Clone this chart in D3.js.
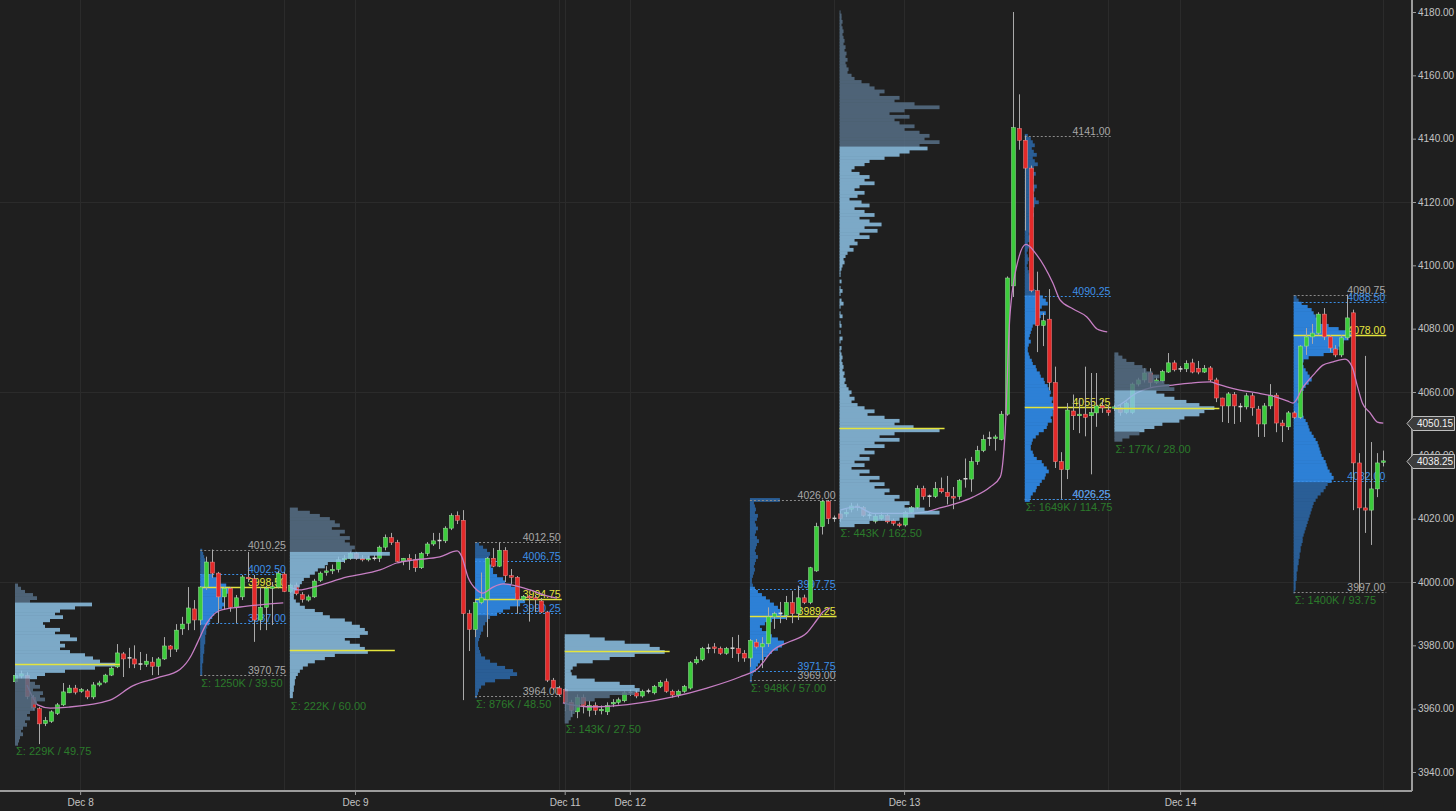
<!DOCTYPE html>
<html><head><meta charset="utf-8">
<script src="https://cdn.jsdelivr.net/npm/d3@7"></script>
<style>
html,body{margin:0;padding:0;background:#202020;overflow:hidden}
svg{display:block}
text{font-family:"Liberation Sans",Arial,sans-serif}
</style></head><body>
<svg id="c" width="1456" height="811"></svg>
<script>
// ---------------- DATA ----------------
const candleOpen = [3968.5,3970.3,3970.5,3963.5,3960,3955.3,3956,3958.5,3961.2,3965,3966.5,3965.5,3965.6,3963.7,3967.5,3968.4,3970.6,3973.2,3977.3,3976.2,3975.7,3974,3974,3974.7,3973.4,3975.7,3979.8,3978.8,3985.2,3987,3991.5,3988,3998.4,4006.3,4002.8,3995.3,3998,3992,3995.3,4001.5,4001,3988,3992,3998,3998.4,4002.5,
3997,3999,3996,3994.3,3995.3,4000.5,4003,4003.5,4004,4007,4007.5,4009,4007.5,4007,4007.5,4007.5,4011,4014,4012.5,4006.5,4007.5,4007,4004.5,4009,4012,4013,4013,4017,4021,4019.5,3990,3985,3993.5,3994.5,4007.5,4005,4010,4002,4001.5,3994.5,3995.5,3995,3994,3990.5,3969,3966.5,
3966,3962,3959,3963.5,3959.5,3961,3959.5,3959,3961.5,3962,3962.5,3965,3965,3964,3965.5,3965,3967,3968.5,3965.5,3964.3,3965.5,3966.5,3974.5,3975.5,3979,3979.5,3979,3977.5,3979,3979,3977.5,3976,3981,3979.5,3980.5,3989,3990,3989.5,3993.5,3990,3995,3993.5,4003.5,4017.5,4025.5,4020,
4021.5,4021.5,4023,4024,4023.5,4021,4019.2,4020,4021,4019.5,4018.3,4018,4022,4023.5,4029.5,4027,4027,4029.5,4028.3,4027,4027,4032.5,4032.5,4038,4041.5,4045.3,4045.5,4045,4053,4093.5,4143.2,4139.5,4130.7,4092,4081,4083,4063,4038,4035.5,4054,4052.5,4053,4052.5,4053.4,4055.6,4054.3,
4055,4055,4053.5,4053.5,4062.5,4063.8,4066,4063,4063.5,4066.3,4069.2,4067.2,4067.3,4069.2,4067.5,4066.3,4067.6,4063.8,4058.1,4055.6,4059.2,4055.3,4055.3,4058.8,4054.6,4049.9,4055.6,4059,4050.2,4049,4053.4,4052,4074.5,4077.4,4078.6,4084.6,4077.4,4073.6,4071.7,4077.1,4085,4037.6,4023.4,4022.7,4029.4,4037.8];
const candleHigh = [3971.3,3972,3971.5,3964.3,3960.5,3957.4,3959.5,3961.8,3968.1,3967.5,3967.5,3966.5,3966.2,3968.4,3968.8,3971,3973.3,3980.4,3977.9,3979.2,3980,3977.9,3977.3,3976.3,3976.3,3982.6,3980.1,3986.7,3989,3998.4,3994.3,3998.7,4008,4010.25,4003.2,3998.4,3998.4,3995.9,4002.2,4009.5,4002.2,3998.4,3998.7,4000,4003.5,4003.2,
3999.5,3999.8,3996.8,3996,4001,4003.3,4005,4005.5,4008,4008.5,4009.8,4009.5,4008.5,4008.3,4008.5,4011.5,4015,4015.5,4013.3,4007.6,4008.8,4008.8,4009.5,4012.6,4015.5,4015.5,4017.6,4021.7,4022.3,4022.7,3991.2,3994.3,4003,4007.9,4010.7,4012.5,4011,4004.1,4001.9,3995.9,3996,3995.9,3995,3990.8,3969.7,3967.2,
3966.5,3962.8,3964.5,3964.5,3962.5,3962,3961,3962,3963,3963.5,3965.5,3966,3965.8,3966,3966.3,3967.5,3969,3969.5,3966,3966,3967.5,3975,3976.5,3979.5,3980.5,3980.7,3979.6,3979.5,3982.6,3983.3,3978.5,3982,3982,3982.6,3992,3990.6,3993.7,3995.6,3997.2,3998.7,3996,4004.8,4018.7,4026,4025.9,4021,
4022.5,4023,4025,4024.8,4024,4022,4021.5,4022,4021.5,4020,4018.8,4022.5,4024,4030.5,4030.4,4027.6,4031.6,4033,4033.5,4030,4032.5,4039,4039.5,4043,4046.5,4047.5,4046.5,4054,4096.5,4180,4154,4141,4131.5,4098,4085,4092.5,4068,4041,4056.5,4059.2,4058.1,4068,4066,4066,4057.5,4055.8,
4056,4056,4057,4063,4064.5,4067.5,4067.5,4065,4067,4072.3,4070,4068.2,4070,4070.5,4069.8,4068.5,4068.2,4064.5,4058.2,4060,4060,4056.5,4059.7,4059.7,4055.6,4056.5,4062.5,4059.7,4051.2,4054,4054,4074.8,4080.2,4081.5,4085.2,4086.5,4078,4074.8,4078,4090.75,4086,4040.7,4071.4,4044.2,4040.7,4041.5];
const candleLow = [3968.1,3969.5,3963,3959.5,3948.8,3954.5,3955.5,3958,3960.8,3964.9,3964.5,3965,3963,3963,3967,3968,3970.3,3972.8,3970,3972.8,3972.8,3972.2,3973.2,3970.6,3970.6,3975.4,3976.3,3977.9,3983.3,3984.8,3984.8,3986.4,3997.5,4001.3,3987,3991.2,3990.6,3987,3994.3,4000,3981.1,3984.8,3984.8,3986.4,3998,3996.8,
3996.5,3995.8,3993.5,3993.8,3995,4000,4002,4002.5,4003,4006,4007,4007,4006.5,4006.5,4006.8,4006.3,4010,4011.7,4006.3,4005.3,4003.8,4003.2,4004.1,4008.2,4011.4,4010.4,4012.3,4016.4,4018.3,3962.7,3978.2,3982.6,3993,3982.6,4004.7,4004.7,4000,3999.4,3990,3994,3987.5,3990.5,3990.2,3968.4,3965.9,3964,
3959.2,3957.5,3957,3958.5,3957.5,3958,3958.2,3958,3960.5,3961.3,3962,3964,3963.3,3963.5,3964.8,3964.5,3966.5,3965,3963.5,3963.5,3965,3966,3974,3975,3977.5,3977.5,3977,3977,3976,3974.8,3974.8,3973.2,3979,3972.8,3979.5,3985.2,3987,3988,3987,3988,3993,3993,4003.2,4015,4018.3,4019,
4019,4020.5,4022,4022.5,4020.5,4020,4018.5,4019.5,4018.5,4017.8,4017.3,4017.5,4021.5,4023,4026,4023.7,4026.5,4028,4024.5,4023,4026,4029.8,4028.5,4037,4041,4043,4041.5,4044.7,4052.5,4090,4136.5,4111,4091.5,4072.6,4074.5,4060.5,4036,4026.25,4032.5,4048,4047,4046,4034,4049,4053.4,4052.5,
4054,4052.5,4053,4053,4061.8,4063,4061.5,4062.5,4063,4066,4066.5,4066.3,4066.3,4065.9,4065.6,4066,4063.2,4056.8,4050.5,4050.2,4049.9,4050.5,4054.5,4052.5,4045.8,4045.8,4054.6,4047.3,4044.2,4048,4051.5,4051.5,4071.7,4075.2,4077.9,4076.4,4072.6,4071,4071,4076.5,4022.7,3997,4015.5,4011.7,4026.8,4036.5];
const candleClose = [3970.5,3971,3963.8,3960.2,3955.2,3956.3,3959,3961.2,3965.3,3966.5,3965.2,3966,3963.7,3967.5,3968.1,3970.6,3972.8,3977.6,3975.7,3975.9,3974.1,3974.2,3975,3973.4,3975.7,3979.8,3978.8,3984.8,3986.7,3991.8,3988,3998.4,4006.3,4002.8,3995.3,3998,3992,3995,4001.6,4001.2,3988,3992,3998,3998.5,4002.8,3997,
3999,3996.3,3994.5,3995.3,4000.3,4002.8,4003.5,4004,4007,4007.5,4009,4007.5,4007,4007.5,4007.5,4011,4014,4012.5,4006.5,4007.5,4007,4004.5,4009,4012,4013,4013.2,4017,4021,4019.5,3990,3985,3993.5,3995,4007.5,4005,4010,4002,4001.5,3994.5,3995.5,3995,3994.5,3990.5,3969,3966.5,3964.5,
3962,3959.5,3963.5,3961,3961,3959.5,3959.8,3961,3962,3962.8,3965,3965.2,3964,3965.5,3965.6,3967,3968.3,3965.5,3964.3,3965.5,3967,3974.5,3975.5,3979,3979.2,3979,3977.5,3979,3979.2,3977.5,3976,3981.5,3979.5,3980.5,3989,3990,3990.2,3993.5,3990,3995,3993.5,4004.5,4017.5,4025.5,4020,4020.2,
4020,4022,4024,4023.5,4021,4021.2,4020.8,4021,4019,4018.5,4018,4022,4023.5,4029.5,4027,4027.2,4029.5,4028.5,4027,4026.5,4032,4032.7,4038,4041.5,4045,4045.6,4045.8,4053,4096,4143.5,4139.5,4130.7,4092,4081,4082.5,4063,4038,4035.5,4054.3,4052.5,4053,4052,4053.5,4055.6,4055,4053.5,
4055.3,4053.5,4056.5,4062.5,4063.8,4066,4063,4063.8,4066.5,4069.2,4067,4067.4,4069,4066.3,4066.3,4067.5,4063.8,4058.1,4055.6,4059.4,4055.6,4055.5,4058.8,4055,4049.9,4055.6,4059,4050.2,4049.3,4053.4,4052,4074.5,4077.4,4078.6,4084.6,4077.4,4073.9,4071.7,4077.1,4083.4,4037.6,4023.4,4022.7,4029.4,4037.6,4038.25];

// VWAP segments: [bar index, price]
const vwapSegments = [
 [[2,3967.5],[3,3963.5],[3.8,3961.2],[5.9,3960.2],[9,3960.5],[15.9,3962.7],[19.7,3967.2],[23.8,3969.7],[27.6,3972.4],[29.5,3976.8],[30.5,3980.7],[32.1,3987],[34.3,3991],[37.7,3992.1],[41,3992.8],[44.9,3993.4]],
 [[46,3998.4],[47.7,3997.5],[49.9,3998.4],[55.6,4001.6],[61.1,4003.8],[63.9,4006],[66.6,4006.9],[71.1,4007.9],[74,4009.8],[74.8,4007.9],[75.8,4001.6],[77.3,3997.5],[78.3,3996.5],[80,3998.4],[81.7,3999.4],[83.3,3999],[86.2,3997.5],[89,3995.6],[90.7,3994.9]],
 [[91.7,3961.8],[95.7,3960.6],[97.9,3960.6],[104.6,3961.8],[110.1,3963.7],[115.8,3966.5],[121.3,3970],[124.2,3972.5],[126.9,3978.5],[129.7,3981.2],[132.5,3983.9],[134.2,3988],[135.2,3990.5],[136.4,3991.8]],
 [[138.1,4022.7],[140.9,4023.7],[143.6,4021.7],[149.3,4021.7],[152,4022],[154.8,4023.4],[157.7,4024.9],[160.3,4026.8],[163.2,4030],[164.9,4033.2],[165.7,4047],[166.5,4083.7],[167.9,4101.7],[169.2,4106.6],[171,4103.3],[173.7,4094.4],[174.9,4089.1],[177.1,4086.2],[179.4,4083.7],[181.1,4079.9],[182.8,4079]],
 [[184.5,4055.5],[186.1,4057.5],[187.1,4059],[190,4061.3],[193.8,4062.2],[196.7,4062.8],[200,4063.2],[201.2,4062.5],[202.8,4061.6],[205,4060.6],[207.9,4059.7],[210.5,4058.7],[212.9,4057.2],[213.9,4056.5],[215.6,4061.6],[217.3,4065.4],[218.9,4068.5],[220.6,4069.5],[222.6,4070.4],[223.8,4067.9],[224.7,4061.6],[225.5,4056.5],[226.8,4053.4],[228,4050.5],[229,4050.15]]
];

// Volume profiles
const profileStart = [0, 31, 46, 77, 92, 123, 138, 169, 184, 214];
const profileEnd   = [null, 45, null, 91, null, 137, null, 183, null, 229];
const profileKind  = ['eth','rth','eth','rth','eth','rth','eth','rth','eth','rth'];
const profileHigh  = [3999, 4010.25, 4023.5, 4012.5, 3983.5, 4026, 4180.5, 4141, 4072.5, 4090.75];
const profileLow   = [3949.25, 3970.75, 3963.5, 3964, 3956, 3969, 4018, 4026.25, 4044.5, 3997];
const profileVAH   = [3993, 4002.5, 4009, 4006.75, 3983, 3997.75, 4137, 4090.25, 4060, 4088.5];
const profileVAL   = [3970, 3987, 3964, 3990.25, 3966, 3971.75, 4018, 4026.25, 4048, 4032];
const profilePOC   = [3974, 3998.5, 3978.5, 3994.75, 3978.25, 3989.25, 4048.5, 4055.25, 4055, 4078];
const profileTopBin = [3999, 4010, 4023, 4012, 3983, 4026, 4180, 4141, 4072, 4090];
const profileSigma = ['229K / 49.75','1250K / 39.50','222K / 60.00','876K / 48.50','143K / 27.50','948K / 57.00','443K / 162.50','1649K / 114.75','177K / 28.00','1400K / 93.75'];
const profileVolume = [
 [3,6,10,18,22,15,77,60,45,40,48,35,28,30,45,40,55,62,45,50,45,55,70,78,85,100,80,50,30,22,15,20,25,18,28,25,30,22,18,20,15,12,15,10,12,8,6,8,5,4,3],
 [2,3,4,5,6,7,8,8,13,17,20,26,30,28,24,22,22,24,22,18,14,12,10,9,7,6,6,5,5,5,4,4,4,3,3,3,2,2,2,2],
 [8,20,30,40,45,50,42,55,50,60,55,60,65,62,100,80,55,38,35,28,25,20,14,12,10,7,5,4,4,6,10,15,25,33,40,55,62,70,75,78,70,55,60,70,75,78,45,35,25,18,13,10,8,6,5,5,4,4,3,3],
 [4,8,12,15,14,12,14,16,18,18,22,28,30,36,40,40,42,45,50,45,35,28,22,15,12,10,8,8,6,5,4,3,3,4,5,6,10,15,22,30,38,42,35,20,10,6,4,3,2],
 [25,40,60,85,95,100,70,45,28,12,8,6,7,12,30,55,70,75,70,45,30,20,15,12,10,8,6,4],
 [30,4,5,6,5,8,7,5,6,8,6,5,7,9,7,6,5,6,8,6,5,4,5,4,3,2,2,3,5,8,12,16,20,24,28,30,32,36,22,15,10,12,18,22,28,34,32,28,22,18,14,10,8,6,4,3,2,2],
 [1,2,2,3,2,3,4,3,4,5,4,6,5,7,6,8,6,7,9,8,12,
  15,22,30,35,45,40,60,55,75,100,65,50,70,55,60,75,65,80,90,85,100,80,
  88,70,60,45,30,25,15,12,20,30,25,35,20,15,25,18,10,22,30,15,25,35,20,30,42,25,38,20,30,15,18,10,14,8,6,4,5,3,2,1,
  1,0,2,0,1,3,1,0,2,4,1,0,1,3,0,1,2,0,1,0,3,1,0,
  2,1,2,3,2,3,4,3,5,4,6,5,7,9,12,10,15,12,18,25,35,28,45,60,55,74,
  100,55,40,60,35,45,25,35,20,30,15,25,12,30,20,40,30,45,35,50,45,60,55,70,65,85,100,75,60,30,15],
 [3,6,8,10,7,9,12,8,10,13,9,7,11,9,6,8,12,10,7,9,11,14,10,8,6,9,7,5,6,8,5,4,6,5,3,4,3,2,3,4,3,2,3,4,5,6,5,7,8,10,12,
  18,21,23,17,15,21,16,12,11,8,7,6,5,4,6,4,3,3,4,5,7,8,11,12,15,16,19,20,23,24,26,25,28,27,29,31,28,28,26,27,23,22,19,14,11,8,7,6,6,8,9,12,17,19,22,24,21,20,17,15,12,11,8,6,5],
 [4,8,12,20,28,32,38,45,40,50,55,60,42,50,60,72,85,100,90,85,70,65,48,40,30,25,15,8],
 [3,5,8,14,18,20,22,24,26,35,45,57,60,55,50,48,45,40,30,15,10,9,10,12,14,16,18,15,12,10,8,6,5,4,5,6,8,9,10,12,14,15,16,18,20,22,24,25,26,27,28,30,32,33,34,36,38,40,38,34,32,30,27,24,22,20,19,18,17,16,15,14,13,12,11,10,9,9,8,7,7,6,6,5,5,4,4,3,3,3,2,2,2,1]
];

const priceTicks = d3.range(3940, 4181, 20);
const dateTickIdx = [10.9, 56.9, 92, 102.9, 148.8, 195];
const dateTickLabels = ['Dec 8','Dec 9','Dec 11','Dec 12','Dec 13','Dec 14'];
const sessionGridIdx = [45, 91, 137, 183, 229];
const hGridPrices = [4000, 4060, 4120];
const tagValues = [4050.15, 4038.25];

// ---------------- CHART ----------------
const W = 1456, H = 811, axisX = 1412, axisY = 791;
const svg = d3.select('#c');
const x = d3.scaleLinear().domain([0, 229]).range([15, 15 + 229 * 5.975]);
const y = d3.scaleLinear().domain([3940, 4180]).range([772, 12]);
const volScale = d3.scaleLinear().domain([0, 100]).range([0, 100]);
const binH = y(4000) - y(4001);
const fmt = d3.format('.2f');

svg.append('rect').attr('width', W).attr('height', H).attr('fill', '#1f1f1f');

// grid
const grid = svg.append('g').attr('stroke', '#2b2b2b').attr('stroke-width', 1);
grid.selectAll('line.v').data(dateTickIdx.concat(sessionGridIdx)).join('line')
  .attr('x1', d => Math.round(x(d)) + 0.5).attr('x2', d => Math.round(x(d)) + 0.5)
  .attr('y1', 0).attr('y2', axisY);
grid.selectAll('line.h').data(hGridPrices).join('line')
  .attr('x1', 0).attr('x2', axisX)
  .attr('y1', d => Math.round(y(d)) + 0.5).attr('y2', d => Math.round(y(d)) + 0.5);

// build profile bin rows
function rows(k) {
  return profileVolume[k].map((v, j) => {
    const p = profileTopBin[k] - j;
    const inVA = p <= profileVAH[k] + 0.25 && p >= profileVAL[k] - 0.25;
    return {k, p, v, inVA};
  });
}

const rthIdx = d3.range(10).filter(k => profileKind[k] === 'rth');
const ethIdx = d3.range(10).filter(k => profileKind[k] === 'eth');

// RTH profiles (under candles)
const rthG = svg.append('g');
rthIdx.forEach(k => {
  const x0 = x(profileStart[k]);
  rthG.append('g').selectAll('rect').data(rows(k)).join('rect')
    .attr('x', x0).attr('y', d => y(d.p + 0.5))
    .attr('width', d => volScale(d.v)).attr('height', binH + 0.6)
    .attr('fill', d => d.inVA ? '#2d80d6' : '#2a5e96');
});

// RTH level lines and labels
const lvlG = svg.append('g');
rthIdx.forEach(k => {
  const xs = x(profileStart[k]), xe = x(profileEnd[k]) + 3;
  const levels = [
    {p: profileHigh[k], c: '#8a8a8a', t: '#a8a8a8', dash: '2,2'},
    {p: profileLow[k], c: '#8a8a8a', t: '#a8a8a8', dash: '2,2'},
    {p: profileVAH[k], c: '#3a8de4', t: '#3d90e8', dash: '2,2'},
    {p: profileVAL[k], c: '#3a8de4', t: '#3d90e8', dash: '2,2'},
    {p: profilePOC[k], c: '#e4e43c', t: '#e6e640', dash: null}
  ];
  levels.forEach(L => {
    const yy = Math.round(y(L.p)) + 0.5;
    lvlG.append('line').attr('x1', xs).attr('x2', xe).attr('y1', yy).attr('y2', yy)
      .attr('stroke', L.c).attr('stroke-width', L.dash ? 1 : 1.6)
      .attr('stroke-dasharray', L.dash);
    lvlG.append('text').attr('x', xe - 1).attr('y', yy - 2).attr('text-anchor', 'end')
      .attr('font-size', 10.5).attr('fill', L.t).text(fmt(L.p));
  });
});

// candles
const candles = candleOpen.map((o, i) => ({i, o, h: candleHigh[i], l: candleLow[i], c: candleClose[i]}));
const isDoji = d => Math.abs(d.c - d.o) < 0.3;
const cG = svg.append('g');
cG.selectAll('line').data(candles).join('line')
  .attr('x1', d => Math.round(x(d.i)) + 0.5).attr('x2', d => Math.round(x(d.i)) + 0.5)
  .attr('y1', d => y(d.h)).attr('y2', d => y(d.l))
  .attr('stroke', '#a9a9a9').attr('stroke-width', 1);
cG.selectAll('rect').data(candles).join('rect')
  .attr('x', d => Math.round(x(d.i)) - 1.5)
  .attr('width', 4)
  .attr('y', d => isDoji(d) ? y((d.o + d.c) / 2) - 0.75 : y(Math.max(d.o, d.c)))
  .attr('height', d => isDoji(d) ? 1.5 : Math.max(1.5, Math.abs(y(d.o) - y(d.c))))
  .attr('fill', d => isDoji(d) ? '#d8d8d8' : (d.c > d.o ? '#3ccc3c' : '#e42a2a'))
  .attr('stroke', d => isDoji(d) ? 'none' : (d.c > d.o ? '#9fe39f' : '#f08a8a'))
  .attr('stroke-width', 0.5);

// VWAP
const vwapLine = d3.line().x(d => x(d[0])).y(d => y(d[1])).curve(d3.curveMonotoneX);
svg.append('g').selectAll('path').data(vwapSegments).join('path')
  .attr('d', vwapLine).attr('fill', 'none').attr('stroke', '#c77fc4').attr('stroke-width', 1.3);

// ETH profiles (over candles, translucent)
const ethG = svg.append('g').attr('opacity', 0.84);
ethIdx.forEach(k => {
  const x0 = x(profileStart[k]);
  ethG.append('g').selectAll('rect').data(rows(k)).join('rect')
    .attr('x', x0).attr('y', d => y(d.p + 0.5))
    .attr('width', d => volScale(d.v)).attr('height', binH + 0.6)
    .attr('fill', d => d.inVA ? '#8ec4e8' : '#587188');
});
// ETH POC lines
svg.append('g').selectAll('line').data(ethIdx).join('line')
  .attr('x1', k => x(profileStart[k]))
  .attr('x2', k => x(profileStart[k]) + volScale(d3.max(profileVolume[k])) + 5)
  .attr('y1', k => Math.round(y(profilePOC[k])) + 0.5)
  .attr('y2', k => Math.round(y(profilePOC[k])) + 0.5)
  .attr('stroke', '#e4e43c').attr('stroke-width', 1.6);

// sigma labels
svg.append('g').selectAll('text').data(d3.range(10)).join('text')
  .attr('x', k => x(profileStart[k]) + 1)
  .attr('y', k => y(profileLow[k]) + 12)
  .attr('font-size', 11).attr('fill', '#2b7a2b')
  .text(k => 'Σ: ' + profileSigma[k]);

// axes
const axG = svg.append('g');
axG.append('line').attr('x1', 0).attr('x2', axisX).attr('y1', axisY).attr('y2', axisY)
  .attr('stroke', '#9c9c9c').attr('stroke-width', 2);
axG.append('line').attr('x1', axisX).attr('x2', axisX).attr('y1', 0).attr('y2', axisY)
  .attr('stroke', '#9c9c9c').attr('stroke-width', 2);

const yAxis = d3.axisRight(y).tickValues(priceTicks).tickFormat(fmt).tickSize(4).tickPadding(2);
const yg = svg.append('g').attr('transform', `translate(${axisX},0)`).call(yAxis);
yg.select('.domain').remove();
yg.selectAll('line').attr('stroke', '#9c9c9c');
yg.selectAll('text').attr('fill', '#c4c4c4').attr('font-size', 10)
  .attr('font-family', '"Liberation Sans",Arial,sans-serif');

const xAxis = d3.axisBottom(x).tickValues(dateTickIdx).tickFormat((d, i) => dateTickLabels[i]).tickSize(4).tickPadding(4);
const xg = svg.append('g').attr('transform', `translate(0,${axisY})`).call(xAxis);
xg.select('.domain').remove();
xg.selectAll('line').attr('stroke', '#9c9c9c');
xg.selectAll('text').attr('fill', '#c4c4c4').attr('font-size', 10)
  .attr('font-family', '"Liberation Sans",Arial,sans-serif');

// price tags
const tagG = svg.append('g');
tagValues.forEach(v => {
  const yy = Math.round(y(v)) + 0.5;
  tagG.append('path')
    .attr('d', `M${axisX - 5},${yy} L${axisX + 1},${yy - 7} L${W - 1.5},${yy - 7} L${W - 1.5},${yy + 7} L${axisX + 1},${yy + 7} Z`)
    .attr('fill', '#3c3c3c').attr('stroke', '#bdbdbd').attr('stroke-width', 1);
  tagG.append('text').attr('x', axisX + 5).attr('y', yy + 3.5)
    .attr('font-size', 10).attr('fill', '#f2f2f2').text(fmt(v));
});
</script>
</body></html>
